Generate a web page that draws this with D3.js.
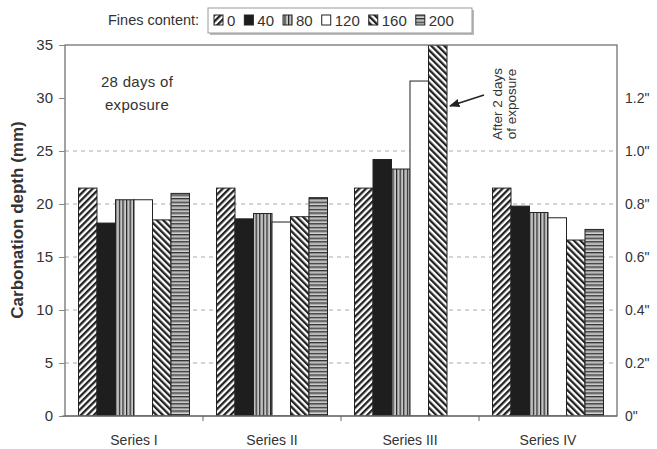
<!DOCTYPE html>
<html><head><meta charset="utf-8">
<script src="https://cdn.jsdelivr.net/npm/d3@7"></script>
<style>
body{margin:0;background:#fff;}
text{font-family:"Liberation Sans",Arial,sans-serif;fill:#333;}
</style></head>
<body><svg id="c" width="657" height="449"></svg>
<script>
const categories = ["Series I","Series II","Series III","Series IV"];
const fines = ["0","40","80","120","160","200"];
const v0   = [21.5, 21.5, 21.5, 21.5];
const v40  = [18.2, 18.6, 24.2, 19.8];
const v80  = [20.4, 19.1, 23.3, 19.2];
const v120 = [20.4, 18.3, 31.6, 18.7];
const v160 = [18.5, 18.8, 35.0, 16.6];
const v200 = [21.0, 20.6, null, 17.6];
const seriesValues = [v0, v40, v80, v120, v160, v200];
const leftTicks = [0,5,10,15,20,25,30,35];
const rightTickLabels = ['0"','0.2"','0.4"','0.6"','0.8"','1.0"','1.2"'];
const gridTicks = [5,10,15,20,25];

const svg = d3.select("#c");
const L=65, R=617, T=45, B=416;
const x0 = d3.scaleBand().domain(categories).range([L,R]);
const x1 = d3.scaleBand().domain(fines).range([13.5, x0.bandwidth()-13.5]);
const y = d3.scaleLinear().domain([0,35]).range([B,T]);
const yR = d3.scaleLinear().domain([0,1.4]).range([B,T]);

// patterns
const defs = svg.append("defs");
function stripe(id, rot, w, sw, col, bg){
  const p = defs.append("pattern").attr("id",id).attr("patternUnits","userSpaceOnUse")
    .attr("width",w).attr("height",w).attr("patternTransform",`rotate(${rot})`);
  p.append("rect").attr("width",w).attr("height",w).attr("fill",bg);
  p.append("rect").attr("width",sw).attr("height",w).attr("fill",col);
}
stripe("p0",45,4.6,2.3,"#222","#fff");
stripe("p160",-45,4.6,2.3,"#222","#fff");
(function(){
  const p = defs.append("pattern").attr("id","p80").attr("patternUnits","userSpaceOnUse").attr("width",3.6).attr("height",10);
  p.append("rect").attr("width",3.6).attr("height",10).attr("fill","#e8e8e8");
  p.append("rect").attr("x",0).attr("width",1.3).attr("height",10).attr("fill","#222");
  p.append("rect").attr("x",2.2).attr("width",0.8).attr("height",10).attr("fill","#999");
  const q = defs.append("pattern").attr("id","p200").attr("patternUnits","userSpaceOnUse").attr("width",10).attr("height",3.6);
  q.append("rect").attr("width",10).attr("height",3.6).attr("fill","#e8e8e8");
  q.append("rect").attr("y",0).attr("height",1.4).attr("width",10).attr("fill","#333");
  q.append("rect").attr("y",2.2).attr("height",0.7).attr("width",10).attr("fill","#888");
})();
const fills = {"0":"url(#p0)","40":"#1e1e1e","80":"url(#p80)","120":"#fff","160":"url(#p160)","200":"url(#p200)"};

// gridlines
svg.append("g").selectAll("line").data(gridTicks).join("line")
  .attr("x1",L).attr("x2",R).attr("y1",d=>y(d)).attr("y2",d=>y(d))
  .attr("stroke","#aaa").attr("stroke-width",1).attr("stroke-dasharray","4,4");

// bars
const clip = defs.append("clipPath").attr("id","plotclip");
clip.append("rect").attr("x",L).attr("y",T).attr("width",R-L).attr("height",B-T);
const rows = [];
fines.forEach((f,fi)=>categories.forEach((c,ci)=>{
  const v = seriesValues[fi][ci];
  if(v!=null) rows.push({f,c,v});
}));
svg.append("g").attr("clip-path","url(#plotclip)").selectAll("rect").data(rows).join("rect")
  .attr("x",d=>x0(d.c)+x1(d.f)).attr("width",x1.bandwidth())
  .attr("y",d=>y(d.v)).attr("height",d=>y(0)-y(d.v))
  .attr("fill",d=>fills[d.f]).attr("stroke","#222").attr("stroke-width",1);

// frame
svg.append("rect").attr("x",L).attr("y",T).attr("width",R-L).attr("height",B-T)
  .attr("fill","none").attr("stroke","#666").attr("stroke-width",1.2);

// left axis
const ya = d3.axisLeft(y).tickValues(leftTicks).tickSize(6).tickPadding(6);
const gL = svg.append("g").attr("transform",`translate(${L},0)`).call(ya);
gL.select(".domain").remove();
gL.selectAll("line").attr("stroke","#888");
gL.selectAll("text").style("font-size","15px").attr("fill","#333");

// right axis labels
const ra = d3.axisRight(yR).tickValues([0,0.2,0.4,0.6,0.8,1.0,1.2]).tickSize(0).tickPadding(8)
  .tickFormat((d,i)=>rightTickLabels[i]);
const gR = svg.append("g").attr("transform",`translate(${R},0)`).call(ra);
gR.select(".domain").remove();
gR.selectAll("text").style("font-size","14px").attr("fill","#333");

// bottom axis
const xa = d3.axisBottom(x0).tickSize(0).tickPadding(19);
const gB = svg.append("g").attr("transform",`translate(0,${B})`).call(xa);
gB.select(".domain").remove();
gB.selectAll("text").style("font-size","14px").attr("fill","#333");
svg.append("line").attr("x1",L-3).attr("x2",R).attr("y1",B).attr("y2",B).attr("stroke","#666").attr("stroke-width",1.2);
svg.append("g").selectAll("line").data(categories.slice(1)).join("line")
  .attr("x1",d=>x0(d)).attr("x2",d=>x0(d)).attr("y1",B).attr("y2",B+5).attr("stroke","#666");

// y title
svg.append("text").attr("transform",`translate(23,220) rotate(-90)`)
  .attr("text-anchor","middle").style("font-size","17px").style("font-weight","bold")
  .text("Carbonation depth (mm)");

// annotations
svg.append("text").attr("x",137).attr("y",87).attr("text-anchor","middle").style("font-size","15px").style("letter-spacing","0.3px").text("28 days of");
svg.append("text").attr("x",137).attr("y",110).attr("text-anchor","middle").style("font-size","15px").style("letter-spacing","0.3px").text("exposure");
const ann = svg.append("text").attr("transform","translate(502,104) rotate(-90)").attr("text-anchor","middle")
  .style("font-size","13.5px").attr("fill","#444");
ann.append("tspan").attr("x",0).attr("dy",0).text("After 2 days");
ann.append("tspan").attr("x",0).attr("dy",14).text("of exposure");
defs.append("marker").attr("id","ah").attr("viewBox","0 0 10 10").attr("refX",9).attr("refY",5)
  .attr("markerWidth",7).attr("markerHeight",7).attr("orient","auto")
  .append("path").attr("d","M0,1 L10,5 L0,9 Z").attr("fill","#222");
svg.append("line").attr("x1",484).attr("y1",95).attr("x2",450).attr("y2",106)
  .attr("stroke","#222").attr("stroke-width",1.5).attr("marker-end","url(#ah)");

// legend
svg.append("text").attr("x",108).attr("y",25).style("font-size","14.5px").text("Fines content:");
const lg = svg.append("g");
lg.append("rect").attr("x",210).attr("y",10).attr("width",264).attr("height",25).attr("fill","#bbb");
lg.append("rect").attr("x",208).attr("y",8).attr("width",264).attr("height",25).attr("fill","#fff").attr("stroke","#999");
let lx = 214;
fines.forEach(f=>{
  lg.append("rect").attr("x",lx).attr("y",15).attr("width",9).attr("height",10)
    .attr("fill",fills[f]).attr("stroke","#222");
  const t = lg.append("text").attr("x",lx+13).attr("y",26).style("font-size","15px").text(f);
  lx += 13 + t.node().getComputedTextLength() + 9;
});
</script></body></html>
